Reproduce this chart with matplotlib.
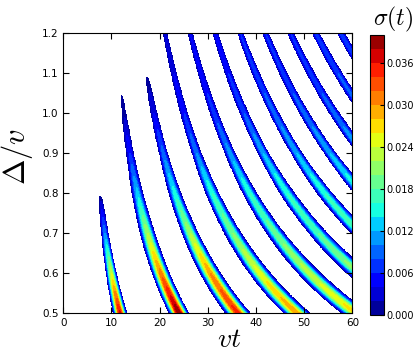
import numpy as np
import matplotlib
matplotlib.use('Agg')
from matplotlib import pyplot as plt

plt.rcParams['mathtext.fontset'] = 'cm'
plt.rcParams['font.family'] = 'DejaVu Sans'

# ridges of sigma(t): ridge n sits near omega*vt = 2*pi*n + phase,
# omega = sqrt((delta/v)^2 + gap^2)   (positions)
ridge_n = [1, 2, 3, 4, 5, 6, 7, 8, 9, 10, 11]
gap = 0.115
phase_delta = [0.5, 0.8, 1.2]
phase_vals = [-0.23, -0.12, 0.35]

# peak value of each ridge at these delta/v
amp_delta = [0.5, 0.6, 0.7, 0.8, 0.9, 1.0, 1.1, 1.2]
peak_table = [
    [0.037, 0.024, 0.010, 0.000, 0.000, 0.000, 0.000, 0.000],
    [0.040, 0.031, 0.022, 0.013, 0.006, 0.0015, 0.000, 0.000],
    [0.035, 0.030, 0.022, 0.015, 0.009, 0.004, 0.0005, 0.000],
    [0.030, 0.025, 0.020, 0.016, 0.010, 0.006, 0.004, 0.003],
    [0.027, 0.023, 0.019, 0.016, 0.011, 0.007, 0.005, 0.004],
    [0.024, 0.021, 0.018, 0.016, 0.012, 0.008, 0.006, 0.005],
    [0.022, 0.020, 0.018, 0.016, 0.012, 0.009, 0.007, 0.006],
    [0.022, 0.020, 0.018, 0.016, 0.012, 0.009, 0.007, 0.006],
    [0.022, 0.020, 0.018, 0.016, 0.012, 0.009, 0.007, 0.006],
    [0.022, 0.020, 0.018, 0.016, 0.012, 0.009, 0.008, 0.007],
    [0.022, 0.020, 0.018, 0.016, 0.013, 0.010, 0.008, 0.007],
]

# half width (in vt) of each ridge at these delta/v
width_delta = [0.5, 0.7, 0.9, 1.2]
width_table = [
    [1.55, 0.85, 0.4, 0.4],
    [2.25, 1.75, 0.95, 0.5],
    [2.85, 1.9, 1.05, 0.55],
    [3.0, 2.0, 1.15, 0.6],
    [3.3, 2.1, 1.25, 0.65],
    [3.5, 2.2, 1.3, 0.7],
    [3.7, 2.3, 1.35, 0.75],
    [3.9, 2.4, 1.4, 0.8],
    [4.1, 2.5, 1.45, 0.85],
    [4.3, 2.6, 1.5, 0.9],
    [4.5, 2.7, 1.55, 0.95],
]
cutoff = 0.0008

levels = np.arange(0, 0.0401, 0.002)
cbar_ticks = [0.000, 0.006, 0.012, 0.018, 0.024, 0.030, 0.036]


def build_field(vt, dl):
    VT, DL = np.meshgrid(vt, dl)
    omega = np.sqrt(DL ** 2 + gap ** 2)
    phase = np.interp(DL, phase_delta, phase_vals)
    sigma = np.zeros_like(VT)
    for k, n in enumerate(ridge_n):
        centre = (2 * np.pi * n + phase) / omega
        amp = np.interp(DL, amp_delta, peak_table[k])
        w = np.interp(DL, width_delta, width_table[k])
        x = np.clip(np.abs(VT - centre) / w, 0, 1)
        sigma += amp * np.cos(np.pi * x / 2) ** 2
    sigma[sigma < cutoff] = np.nan
    return sigma


vt = np.linspace(0, 60, 700)
dl = np.linspace(0.5, 1.2, 500)
sigma = build_field(vt, dl)

fig = plt.figure(figsize=(4.15, 3.52), dpi=100)
ax = fig.add_axes([0.1525, 0.110, 0.6965, 0.7955])
cf = ax.contourf(vt, dl, sigma, levels=levels, cmap='jet')
ax.set_xlim(0, 60)
ax.set_ylim(0.5, 1.2)
ax.set_xticks(np.arange(0, 61, 10))
ax.set_yticks(np.arange(0.5, 1.21, 0.1))
ax.tick_params(direction='in', top=True, right=True, labelsize=7.5, length=4)

# axis labels placed by hand, like the original
fig.text(0.552, 0.014, r'$vt$', fontsize=20, ha='center', va='baseline')
fig.text(0.042, 0.555, r'$\Delta/v$', fontsize=22, rotation=90,
         ha='center', va='center')

cax = fig.add_axes([0.8916, 0.105, 0.0337, 0.7955])
cb = fig.colorbar(cf, cax=cax, ticks=cbar_ticks)
cb.ax.set_yticklabels(['%.3f' % t for t in cbar_ticks])
cb.ax.tick_params(labelsize=7, direction='in', length=3, pad=2)
fig.text(0.947, 0.946, r'$\sigma(t)$', fontsize=17, ha='center', va='center')

fig.savefig('out.png', dpi=100)
